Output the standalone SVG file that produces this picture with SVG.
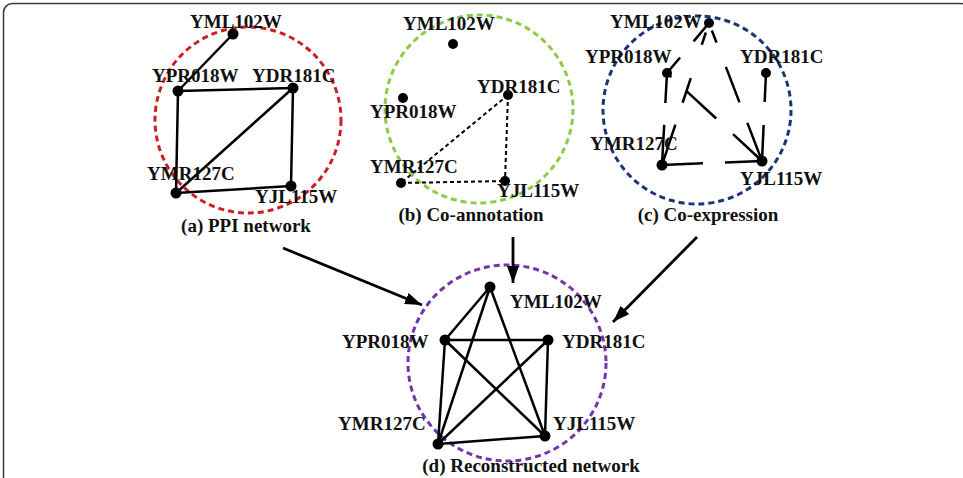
<svg xmlns="http://www.w3.org/2000/svg" width="963" height="478" viewBox="0 0 963 478">
<defs>
<style>
text{font-family:"Liberation Serif","Times New Roman",serif;font-weight:bold;font-size:19px;fill:#111}
.cap{text-anchor:middle}
.dot{fill:#000}
.e{stroke:#000;stroke-width:2.5;fill:none;stroke-linecap:butt}
.eb{stroke:#000;stroke-width:2;fill:none;stroke-dasharray:4 3}
.ring{fill:none;stroke-width:3;stroke-dasharray:6 4}
.arr{stroke:#000;stroke-width:2.8;fill:none}
</style>
<marker id="ah" markerUnits="userSpaceOnUse" markerWidth="18" markerHeight="14" refX="17" refY="6" orient="auto">
<path d="M0,0 L17,6 L0,12 Z" fill="#000"/>
</marker>
</defs>
<rect x="3.5" y="3.5" width="966" height="500" rx="9" fill="#fff" stroke="#3a3a3a" stroke-width="1.5"/>

<!-- cluster rings -->
<g id="rings">
<circle class="ring" cx="248" cy="120" r="93" stroke="#cc1f1f"/>
<circle class="ring" cx="479" cy="109" r="94" stroke="#8dcb45"/>
<circle class="ring" cx="697" cy="110" r="94" stroke="#1b3474"/>
<ellipse class="ring" cx="507" cy="363" rx="99" ry="98" stroke="#7535a8"/>
</g>

<g id="connectors">
<!-- (a) PPI network -->
<line class="e" x1="233" y1="34" x2="178" y2="91"/>
<line class="e" x1="178" y1="91" x2="293" y2="88"/>
<line class="e" x1="178" y1="91" x2="176" y2="193"/>
<line class="e" x1="293" y1="88" x2="176" y2="193"/>
<line class="e" x1="293" y1="88" x2="291" y2="186"/>
<line class="e" x1="176" y1="193" x2="291" y2="186"/>
<!-- (b) Co-annotation -->
<line class="eb" x1="508" y1="95" x2="401" y2="183"/>
<line class="eb" x1="508" y1="95" x2="505" y2="181"/>
<line class="eb" x1="401" y1="183" x2="505" y2="181"/>
<!-- (c) Co-expression -->
<line class="e" x1="709" y1="23" x2="667" y2="73" stroke-dasharray="24 21 25 100"/>
<line class="e" x1="709" y1="23" x2="662" y2="165" stroke-dasharray="0 10 13 35 26 23 40 100"/>
<line class="e" x1="709" y1="23" x2="762" y2="161" stroke-dasharray="0 8 13 26 38 22 40 100"/>
<line class="e" x1="667" y1="73" x2="662" y2="165" stroke-dasharray="30 22 40 100"/>
<line class="e" x1="667" y1="73" x2="762" y2="161" stroke-dasharray="6 21 40 23 40 100"/>
<line class="e" x1="766" y1="73" x2="762" y2="161" stroke-dasharray="29 23 40 100"/>
<line class="e" x1="662" y1="165" x2="762" y2="161" stroke-dasharray="41 22 40 100"/>
<!-- (d) Reconstructed network -->
<line class="e" x1="490" y1="287" x2="445" y2="340"/>
<line class="e" x1="490" y1="287" x2="438" y2="444"/>
<line class="e" x1="490" y1="287" x2="545" y2="436"/>
<line class="e" x1="445" y1="340" x2="548" y2="340"/>
<line class="e" x1="445" y1="340" x2="438" y2="444"/>
<line class="e" x1="445" y1="340" x2="545" y2="436"/>
<line class="e" x1="548" y1="340" x2="438" y2="444"/>
<line class="e" x1="548" y1="340" x2="545" y2="436"/>
<line class="e" x1="438" y1="444" x2="545" y2="436"/>
<!-- merge arrows -->
<line class="arr" x1="283" y1="248" x2="422" y2="305" marker-end="url(#ah)"/>
<line class="arr" x1="513" y1="237" x2="513" y2="283" marker-end="url(#ah)"/>
<line class="arr" x1="697" y1="237" x2="613" y2="322" marker-end="url(#ah)"/>
</g>

<!-- (a) -->
<g id="a-YML102W"><circle class="dot" cx="233" cy="34" r="5.5"/><text x="190" y="28">YML102W</text></g>
<g id="a-YPR018W"><circle class="dot" cx="178" cy="91" r="5.5"/><text x="152" y="82">YPR018W</text></g>
<g id="a-YDR181C"><circle class="dot" cx="293" cy="88" r="5.5"/><text x="252" y="82">YDR181C</text></g>
<g id="a-YMR127C"><circle class="dot" cx="176" cy="193" r="5.5"/><text x="147" y="180">YMR127C</text></g>
<g id="a-YJL115W"><circle class="dot" cx="291" cy="186" r="5.5"/><text x="255" y="203">YJL115W</text></g>
<g id="a-caption"><text class="cap" x="246" y="232">(a) PPI network</text></g>

<!-- (b) -->
<g id="b-YML102W"><circle class="dot" cx="453" cy="44" r="5"/><text x="403" y="30">YML102W</text></g>
<g id="b-YPR018W"><circle class="dot" cx="403" cy="98" r="5"/><text x="370" y="118">YPR018W</text></g>
<g id="b-YDR181C"><circle class="dot" cx="508" cy="95" r="5"/><text x="477" y="93">YDR181C</text></g>
<g id="b-YMR127C"><circle class="dot" cx="401" cy="183" r="5"/><text x="370" y="173">YMR127C</text></g>
<g id="b-YJL115W"><circle class="dot" cx="505" cy="181" r="5"/><text x="497" y="197">YJL115W</text></g>
<g id="b-caption"><text class="cap" x="471" y="221">(b) Co-annotation</text></g>

<!-- (c) -->
<g id="c-YML102W"><circle class="dot" cx="709" cy="23" r="5"/><text x="610" y="28">YML102W</text></g>
<g id="c-YPR018W"><circle class="dot" cx="667" cy="73" r="5"/><text x="585" y="63">YPR018W</text></g>
<g id="c-YDR181C"><circle class="dot" cx="766" cy="73" r="5"/><text x="740" y="63">YDR181C</text></g>
<g id="c-YMR127C"><circle class="dot" cx="662" cy="165" r="5.5"/><text x="590" y="150">YMR127C</text></g>
<g id="c-YJL115W"><circle class="dot" cx="762" cy="161" r="5.5"/><text x="740" y="185">YJL115W</text></g>
<g id="c-caption"><text class="cap" x="708" y="221">(c) Co-expression</text></g>

<!-- (d) -->
<g id="d-YML102W"><circle class="dot" cx="490" cy="287" r="5.5"/><text x="510" y="308">YML102W</text></g>
<g id="d-YPR018W"><circle class="dot" cx="445" cy="340" r="5.5"/><text x="342" y="348">YPR018W</text></g>
<g id="d-YDR181C"><circle class="dot" cx="548" cy="340" r="5.5"/><text x="562" y="348">YDR181C</text></g>
<g id="d-YMR127C"><circle class="dot" cx="438" cy="444" r="5.5"/><text x="338" y="430">YMR127C</text></g>
<g id="d-YJL115W"><circle class="dot" cx="545" cy="436" r="5.5"/><text x="553" y="430">YJL115W</text></g>
<g id="d-caption"><text class="cap" x="531" y="472">(d) Reconstructed network</text></g>
</svg>
